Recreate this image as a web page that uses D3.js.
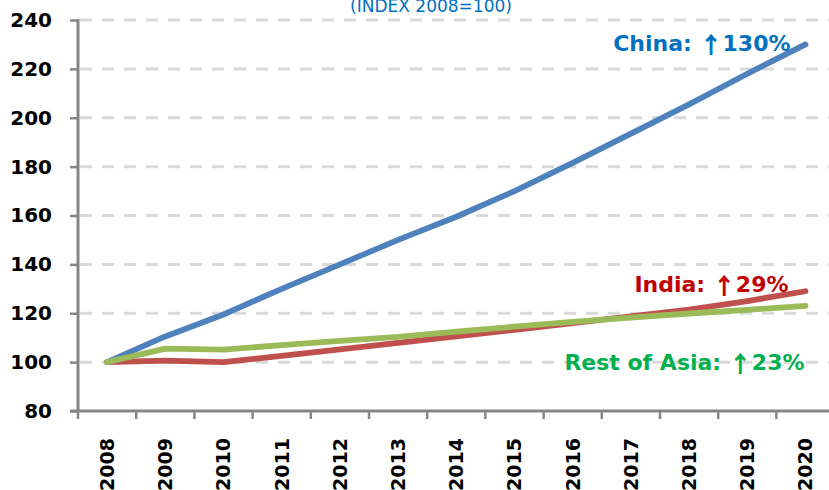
<!DOCTYPE html>
<html>
<head>
<meta charset="utf-8">
<script src="https://cdn.jsdelivr.net/npm/d3@7/dist/d3.min.js"></script>
<style>
  html, body { margin: 0; padding: 0; background: #fff; }
  svg { display: block; }
  text { font-family: "DejaVu Sans", "Liberation Sans", sans-serif; }
</style>
</head>
<body>
<svg id="chart" width="829" height="490"></svg>
<script>
const years = ["2008","2009","2010","2011","2012","2013","2014","2015","2016","2017","2018","2019","2020"];
const china = [100, 110.5, 119.5, 130, 140, 150, 159.5, 170, 181.5, 193.5, 205.5, 218, 230];
const india = [100, 100.6, 100, 102.6, 105.2, 107.9, 110.5, 113.2, 116, 118.7, 121.5, 125, 129];
const restOfAsia = [100, 105.5, 105.1, 107, 108.7, 110.3, 112.5, 114.5, 116.5, 118.2, 119.9, 121.4, 123];
const yTicks = [80, 100, 120, 140, 160, 180, 200, 220, 240];
const titleText = "(INDEX 2008=100)";
const labels = [
  { name: "China: ", change: "130%", color: "#0070C0" },
  { name: "India: ", change: "29%", color: "#C00000" },
  { name: "Rest of Asia: ", change: "23%", color: "#00B050" }
];
const seriesColors = ["#4F81BD", "#C0504D", "#9BBB59"];

(function () {
const svg = d3.select("#chart");
const W = 829;
const mLeft = 78, mBottom = 411, mTop = 20;
const band = 58.2;

const x = d3.scaleBand().domain(years).range([mLeft, mLeft + band * years.length]).padding(0);
const y = d3.scaleLinear().domain([80, 240]).range([mBottom, mTop]);
const cx = d => x(d) + x.bandwidth() / 2;

// title (partially cut at top, as in the reference)
svg.append("text")
  .attr("x", 431).attr("y", 12)
  .attr("text-anchor", "middle")
  .attr("font-size", 17)
  .attr("fill", "#0070C0")
  .text(titleText);

// gridlines
svg.append("g").selectAll("line")
  .data(yTicks.filter(v => v > 80))
  .join("line")
  .attr("x1", mLeft + 2).attr("x2", W)
  .attr("y1", d => y(d)).attr("y2", d => y(d))
  .attr("stroke", "#D9D9D9")
  .attr("stroke-width", 3)
  .attr("stroke-dasharray", "12,10");

// y axis
const yAxis = d3.axisLeft(y).tickValues(yTicks).tickSize(8).tickPadding(18).tickFormat(d3.format("d"));
const gy = svg.append("g").attr("transform", `translate(${mLeft},0)`).call(yAxis);
gy.select(".domain").remove();
gy.selectAll(".tick line").attr("stroke", "#868686").attr("stroke-width", 2.5);
gy.selectAll(".tick text")
  .attr("font-family", "DejaVu Sans, sans-serif")
  .attr("font-size", 20).attr("font-weight", "bold").attr("fill", "#000");
svg.append("line")
  .attr("x1", mLeft).attr("x2", mLeft)
  .attr("y1", y(240) - 1).attr("y2", mBottom + 1)
  .attr("stroke", "#868686").attr("stroke-width", 3);

// x axis
svg.append("line")
  .attr("x1", mLeft - 8).attr("x2", W)
  .attr("y1", mBottom).attr("y2", mBottom)
  .attr("stroke", "#868686").attr("stroke-width", 3);
svg.append("g").selectAll("line")
  .data(years)
  .join("line")
  .attr("x1", d => x(d)).attr("x2", d => x(d))
  .attr("y1", mBottom).attr("y2", mBottom + 8)
  .attr("stroke", "#868686").attr("stroke-width", 2.5);
svg.append("g").selectAll("text")
  .data(years)
  .join("text")
  .attr("transform", d => `translate(${cx(d)},${mBottom + 27}) rotate(-90)`)
  .attr("text-anchor", "end")
  .attr("dy", "0.36em")
  .attr("font-size", 19)
  .attr("font-weight", "bold")
  .attr("fill", "#000")
  .text(d => d);

// lines
const seriesData = [china, india, restOfAsia];
const line = d3.line().x((d, i) => cx(years[i])).y(d => y(d));
svg.append("g").selectAll("path")
  .data(seriesData)
  .join("path")
  .attr("d", d => line(d))
  .attr("fill", "none")
  .attr("stroke", (d, i) => seriesColors[i])
  .attr("stroke-width", 5.8)
  .attr("stroke-linejoin", "round")
  .attr("stroke-linecap", "round");

// labels
const last = years[years.length - 1];
const labelPos = [
  { dx: -15, v: china[12], dy: 6.5 },
  { dx: -17, v: india[12], dy: 0.5 },
  { dx: -1, v: restOfAsia[12], dy: 64 }
];
const lt = svg.append("g").selectAll("text")
  .data(labels)
  .join("text")
  .attr("x", (d, i) => cx(last) + labelPos[i].dx)
  .attr("y", (d, i) => y(labelPos[i].v) + labelPos[i].dy)
  .attr("text-anchor", "end")
  .attr("font-size", 22)
  .attr("font-weight", "bold")
  .attr("fill", d => d.color);
lt.append("tspan").text(d => d.name);
lt.append("tspan")
  .attr("font-family", "Noto Sans CJK SC, sans-serif")
  .attr("font-weight", 900)
  .attr("font-size", 23)
  .attr("dy", 2)
  .text("\u2191");
lt.append("tspan").attr("dy", -2).text(d => d.change);
})();
</script>
</body>
</html>
